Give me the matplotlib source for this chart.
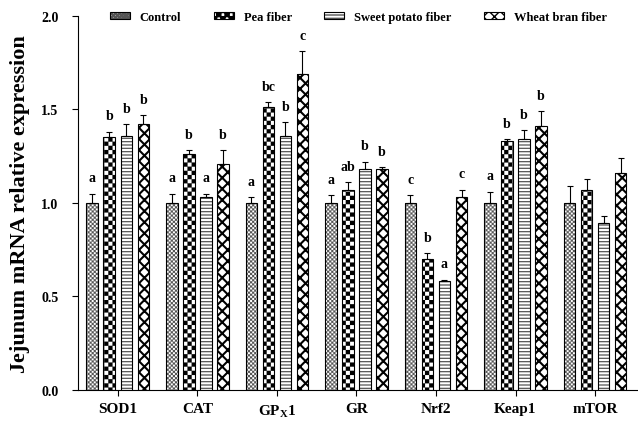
import numpy as np
import matplotlib.pyplot as plt
import matplotlib.hatch as mhatch
import matplotlib.colors as mcolors
from matplotlib.path import Path
import warnings

warnings.filterwarnings('ignore')

plt.rcParams['font.family'] = ['Liberation Serif', 'DejaVu Serif']
plt.rcParams['font.weight'] = 'bold'
plt.rcParams['mathtext.default'] = 'regular'


# checkerboard hatch ('c'), not built into matplotlib
class CheckerHatch(mhatch.HatchPatternBase):
    filled = True

    def __init__(self, hatch, density):
        self.n = int(hatch.count('c') * density) // 2 * 2
        self.num_vertices = (self.n * self.n // 2) * 5

    def set_vertices_and_codes(self, vertices, codes):
        s = 1.0 / self.n
        k = 0
        for i in range(self.n):
            for j in range(self.n):
                if (i + j) % 2 == 0:
                    x0, y0 = i * s, j * s
                    vertices[k:k + 5] = [(x0, y0), (x0 + s, y0), (x0 + s, y0 + s),
                                         (x0, y0 + s), (x0, y0)]
                    codes[k:k + 5] = [Path.MOVETO, Path.LINETO, Path.LINETO,
                                      Path.LINETO, Path.CLOSEPOLY]
                    k += 5


mhatch._hatch_types.append(CheckerHatch)

genes = ['SOD1', 'CAT', 'GP$_\\mathregular{X}$1', 'GR', 'Nrf2', 'Keap1', 'mTOR']
groups = ['Control', 'Pea fiber', 'Sweet potato fiber', 'Wheat bran fiber']

control = [1.00, 1.00, 1.00, 1.00, 1.00, 1.00, 1.00]
pea = [1.35, 1.26, 1.51, 1.07, 0.70, 1.33, 1.07]
sweet = [1.36, 1.03, 1.36, 1.18, 0.58, 1.34, 0.89]
wheat = [1.42, 1.21, 1.69, 1.18, 1.03, 1.41, 1.16]

control_err = [0.05, 0.05, 0.03, 0.04, 0.04, 0.06, 0.09]
pea_err = [0.03, 0.02, 0.03, 0.04, 0.03, 0.01, 0.06]
sweet_err = [0.06, 0.02, 0.07, 0.04, 0.01, 0.05, 0.04]
wheat_err = [0.05, 0.07, 0.12, 0.01, 0.04, 0.08, 0.08]

control_lab = ['a', 'a', 'a', 'a', 'c', 'a', '']
pea_lab = ['b', 'b', 'bc', 'ab', 'b', 'b', '']
sweet_lab = ['b', 'a', 'b', 'b', 'a', 'b', '']
wheat_lab = ['b', 'b', 'c', 'b', 'c', 'b', '']

values = [control, pea, sweet, wheat]
errors = [control_err, pea_err, sweet_err, wheat_err]
letters = [control_lab, pea_lab, sweet_lab, wheat_lab]
hatches = ['cccccccc', 'cccc', '-----', 'xxx']
hatch_lw = [0.1, 0.1, 0.9, 1.5]
hatch_col = ['#555555', 'black', '#555555', 'black']

fig = plt.figure(figsize=(6.38, 4.31), dpi=100)
ax = fig.add_axes([0.122, 0.093, 0.878, 0.868])

x = np.arange(len(genes))
pitch = 0.214
width = 0.147
for i in range(4):
    pos = x + (i - 1.5) * pitch
    err = np.array(errors[i])
    bars = ax.bar(pos, values[i], width, color='white', edgecolor=hatch_col[i],
                  hatch=hatches[i], linewidth=0, label=groups[i])
    for b in bars:
        b.set_hatch_linewidth(hatch_lw[i])
    ax.bar(pos, values[i], width, fill=False, edgecolor='black', linewidth=0.8)
    ax.errorbar(pos, values[i], yerr=[np.zeros_like(err), err], fmt='none',
                ecolor='black', elinewidth=0.8, capsize=2.5, capthick=0.8)
    for p, v, e, t in zip(pos, values[i], err, letters[i]):
        if t:
            ax.text(p, v + e + 0.05, t, ha='center', va='bottom', fontsize=10, fontweight='bold')

ax.set_xlim(-0.503, 6.54)
ax.set_ylim(0, 2.0)
ax.set_yticks([0, 0.5, 1.0, 1.5, 2.0])
ax.set_yticklabels(['0.0', '0.5', '1.0', '1.5', '2.0'], fontsize=10, fontweight='bold')
ax.set_xticks(x)
ax.set_xticklabels(genes, fontsize=11, fontweight='bold')
ax.tick_params(axis='y', direction='out', length=4, width=0.8, pad=10)
ax.tick_params(axis='x', direction='out', length=4, width=0.8, pad=5)
ax.spines['top'].set_visible(False)
ax.spines['right'].set_visible(False)
ax.set_ylabel('Jejunum mRNA relative expression', fontsize=16, fontweight='bold', labelpad=8)

leg = fig.legend(loc='center left', bbox_to_anchor=(0.172, 0.958), ncol=4, frameon=False,
                 prop={'size': 9, 'weight': 'bold'}, handlelength=1.6, handleheight=0.55,
                 columnspacing=2.6, handletextpad=0.8, borderpad=0, borderaxespad=0)
for h, c in zip(leg.legend_handles, hatch_col):
    h.set_edgecolor('black')
    h.set_linewidth(0.8)
    h._hatch_color = mcolors.to_rgba(c)

fig.savefig('out.png', dpi=100)
